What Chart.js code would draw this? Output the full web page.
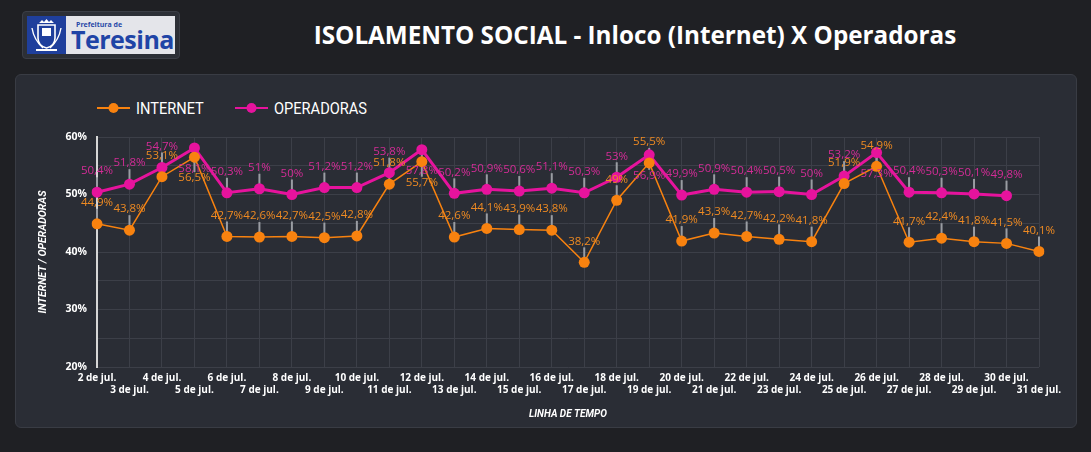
<!DOCTYPE html>
<html lang="pt-BR">
<head>
<meta charset="utf-8">
<title>Isolamento Social - Inloco X Operadoras</title>
<script src="https://cdn.jsdelivr.net/npm/chart.js@4.4.1/dist/chart.umd.min.js"></script>
<style>
  html, body { margin: 0; padding: 0; }
  body { width: 1091px; height: 452px; background: #1f2024; position: relative; overflow: hidden; font-family: "Open Sans", "Noto Sans", sans-serif; }
  .logo { position: absolute; left: 22px; top: 11px; width: 156px; height: 46px; background: #2c2f36; border: 1px solid #3b3e46; border-radius: 4px; }
  .logo .caixa { position: absolute; left: 4px; top: 4px; width: 148px; height: 38px; background: #e4e5ea; }
  .logo .brasao { position: absolute; left: 0; top: 0; width: 39px; height: 38px; background: #1f3f9c; }
  .logo .pref { position: absolute; left: 49px; top: 4px; font: 700 7px "Open Sans", sans-serif; color: #2a4aa8; }
  .logo .nome { position: absolute; left: 44px; top: 9px; font: 700 25px "Open Sans", sans-serif; color: #1f44a6; letter-spacing: -0.5px; line-height: 28px; }
  .titulo { position: absolute; left: 0; top: 16px; width: 1270px; text-align: center; color: #fff; font: 700 25px "Open Sans", sans-serif; line-height: 36px; transform: scaleX(0.97); transform-origin: 635px 0; white-space: nowrap; }
  .painel { position: absolute; left: 15px; top: 74px; width: 1060px; height: 352px; background: #2a2d35; border: 1px solid #393c44; border-radius: 6px; }
  .legenda { position: absolute; top: 97px; left: 97px; display: flex; color: #fff; font: 400 17px Roboto, sans-serif; }
  .legenda .item { display: flex; align-items: center; margin-right: 20px; height: 22px; }
  .legenda canvas { margin-right: 6px; }
  .legenda span { display: inline-block; transform: scaleX(0.86); transform-origin: 0 50%; }
  #grafico { position: absolute; left: 0; top: 0; }
</style>
</head>
<body>
<div class="logo">
  <div class="caixa">
    <div class="brasao">
      <svg width="39" height="38" viewBox="0 0 39 38">
        <path d="M12 7 l3 -3 l2 2 l2.5 -3 l2.5 3 l2 -2 l3 3 z" fill="#fff"/>
        <path d="M11 9 h17 v13 q0 8 -8.5 10 q-8.5 -2 -8.5 -10 z" fill="none" stroke="#fff" stroke-width="1.6"/>
        <rect x="15" y="12" width="9" height="8" fill="#fff"/>
        <path d="M5 12 q2 12 11 20 M34 12 q-2 12 -11 20" stroke="#fff" stroke-width="1.4" fill="none"/>
        <rect x="9" y="33" width="21" height="2" fill="#fff"/>
      </svg>
    </div>
    <div class="pref">Prefeitura de</div>
    <div class="nome">Teresina</div>
  </div>
</div>
<div class="titulo">ISOLAMENTO SOCIAL - Inloco (Internet) X Operadoras</div>
<div class="painel"></div>
<div class="legenda" id="legenda"></div>
<canvas id="grafico" width="1091" height="452"></canvas>
<script>
// dias do mês de julho
const dias = ['2 de jul.', '3 de jul.', '4 de jul.', '5 de jul.', '6 de jul.', '7 de jul.', '8 de jul.', '9 de jul.', '10 de jul.', '11 de jul.',
  '12 de jul.', '13 de jul.', '14 de jul.', '15 de jul.', '16 de jul.', '17 de jul.', '18 de jul.', '19 de jul.', '20 de jul.', '21 de jul.',
  '22 de jul.', '23 de jul.', '24 de jul.', '25 de jul.', '26 de jul.', '27 de jul.', '28 de jul.', '29 de jul.', '30 de jul.', '31 de jul.'];

// isolamento medido pela Inloco (internet), em %
const internet = [44.9, 43.8, 53.1, 56.5, 42.7, 42.6, 42.7, 42.5, 42.8, 51.8,
  55.7, 42.6, 44.1, 43.9, 43.8, 38.2, 49, 55.5, 41.9, 43.3,
  42.7, 42.2, 41.8, 51.9, 54.9, 41.7, 42.4, 41.8, 41.5, 40.1];

// isolamento medido pelas operadoras, em %
const operadoras = [50.4, 51.8, 54.7, 58.1, 50.3, 51, 50, 51.2, 51.2, 53.8,
  57.8, 50.2, 50.9, 50.6, 51.1, 50.3, 53, 56.9, 49.9, 50.9,
  50.4, 50.5, 50, 53.2, 57.3, 50.4, 50.3, 50.1, 49.8, null];

// marcas do eixo y
const ticksY = [20, 30, 40, 50, 60];

const corInternet = '#f8820f';
const corOperadoras = '#e6139d';
// acima deste valor o rótulo vai para baixo do ponto
const limiteRotulo = 55.6;

function formata(v) {
  return String(v).replace('.', ',') + '%';
}

// rótulos de valor com linha de ligação até o ponto
const rotulos = {
  id: 'rotulos',
  posicoes(chart, cb) {
    chart.data.datasets.forEach((ds, i) => {
      const meta = chart.getDatasetMeta(i);
      meta.data.forEach((pt, j) => {
        const v = ds.data[j];
        if (v == null) return;
        const abaixo = v > limiteRotulo;
        cb(ds, pt, v, abaixo, abaixo ? pt.y + 21 : pt.y - 21);
      });
    });
  },
  beforeDatasetsDraw(chart) {
    const ctx = chart.ctx;
    ctx.save();
    ctx.strokeStyle = '#9a9da3';
    ctx.lineWidth = 2;
    this.posicoes(chart, (ds, pt, v, abaixo, ly) => {
      ctx.beginPath();
      if (abaixo) {
        ctx.moveTo(pt.x, pt.y);
        ctx.lineTo(pt.x, ly - 6);
      } else {
        ctx.moveTo(pt.x, ly + 6);
        ctx.lineTo(pt.x, pt.y);
      }
      ctx.stroke();
    });
    ctx.restore();
  },
  afterDatasetsDraw(chart) {
    const ctx = chart.ctx;
    ctx.save();
    ctx.font = '11.5px "Open Sans", sans-serif';
    ctx.textAlign = 'center';
    ctx.textBaseline = 'middle';
    this.posicoes(chart, (ds, pt, v, abaixo, ly) => {
      ctx.fillStyle = ds.rotuloCor;
      ctx.fillText(formata(v), pt.x, ly);
    });
    ctx.restore();
  }
};

const ctx = document.getElementById('grafico').getContext('2d');
const grafico = new Chart(ctx, {
  type: 'line',
  data: {
    labels: dias,
    datasets: [{
      label: 'INTERNET',
      data: internet,
      borderColor: corInternet,
      backgroundColor: corInternet,
      rotuloCor: '#ee8a22',
      borderWidth: 1.5,
      pointRadius: 5.5,
      pointBorderWidth: 0,
      pointHoverRadius: 5.5,
      tension: 0
    }, {
      label: 'OPERADORAS',
      data: operadoras,
      borderColor: corOperadoras,
      backgroundColor: corOperadoras,
      rotuloCor: '#d42c97',
      borderWidth: 3,
      pointRadius: 5.5,
      pointBorderWidth: 0,
      pointHoverRadius: 5.5,
      tension: 0
    }]
  },
  options: {
    responsive: false,
    animation: false,
    layout: { padding: { left: 33, right: 52, top: 137, bottom: 28 } },
    plugins: {
      legend: { display: false },
      tooltip: { enabled: false }
    },
    scales: {
      x: {
        grid: { color: '#3c3f48', lineWidth: 1, drawTicks: false },
        border: { display: false },
        ticks: {
          color: '#fff',
          font: { family: 'Open Sans', size: 10, weight: 'bold' },
          autoSkip: false,
          maxRotation: 0,
          padding: 5,
          callback: function(v, i) {
            const t = this.getLabelForValue(v);
            return i % 2 === 0 ? t : ['', t];
          }
        },
        title: {
          display: true,
          text: 'LINHA DE TEMPO',
          color: '#fff',
          font: { family: 'Roboto', size: 10, weight: 'bold', style: 'italic' },
          padding: { top: 7 }
        },
        afterFit: s => { s.height = 57; }
      },
      y: {
        min: 20,
        max: 60,
        grid: { color: '#3c3f48', lineWidth: 1, drawTicks: false },
        border: { color: '#d6d6d6', width: 2 },
        ticks: {
          stepSize: 5,
          color: '#fff',
          font: { family: 'Open Sans', size: 10.5, weight: 'bold' },
          padding: 10,
          callback: v => ticksY.includes(v) ? v + '%' : ''
        },
        title: {
          display: true,
          text: 'INTERNET / OPERADORAS',
          color: '#fff',
          font: { family: 'Roboto', size: 10.5, weight: 'bold', style: 'italic' },
          padding: { bottom: 0 }
        },
        afterFit: s => { s.width = 64; }
      }
    }
  },
  plugins: [rotulos]
});

// legenda em html com linha e ponto
const legenda = document.getElementById('legenda');
grafico.data.datasets.forEach(ds => {
  const item = document.createElement('div');
  item.className = 'item';
  const c = document.createElement('canvas');
  c.width = 33; c.height = 14;
  const g = c.getContext('2d');
  g.strokeStyle = ds.borderColor;
  g.lineWidth = 2;
  g.beginPath(); g.moveTo(0, 7); g.lineTo(33, 7); g.stroke();
  g.fillStyle = ds.borderColor;
  g.beginPath(); g.arc(16.5, 7, 5, 0, Math.PI * 2); g.fill();
  const s = document.createElement('span');
  s.textContent = ds.label;
  item.appendChild(c);
  item.appendChild(s);
  legenda.appendChild(item);
});
</script>
</body>
</html>
